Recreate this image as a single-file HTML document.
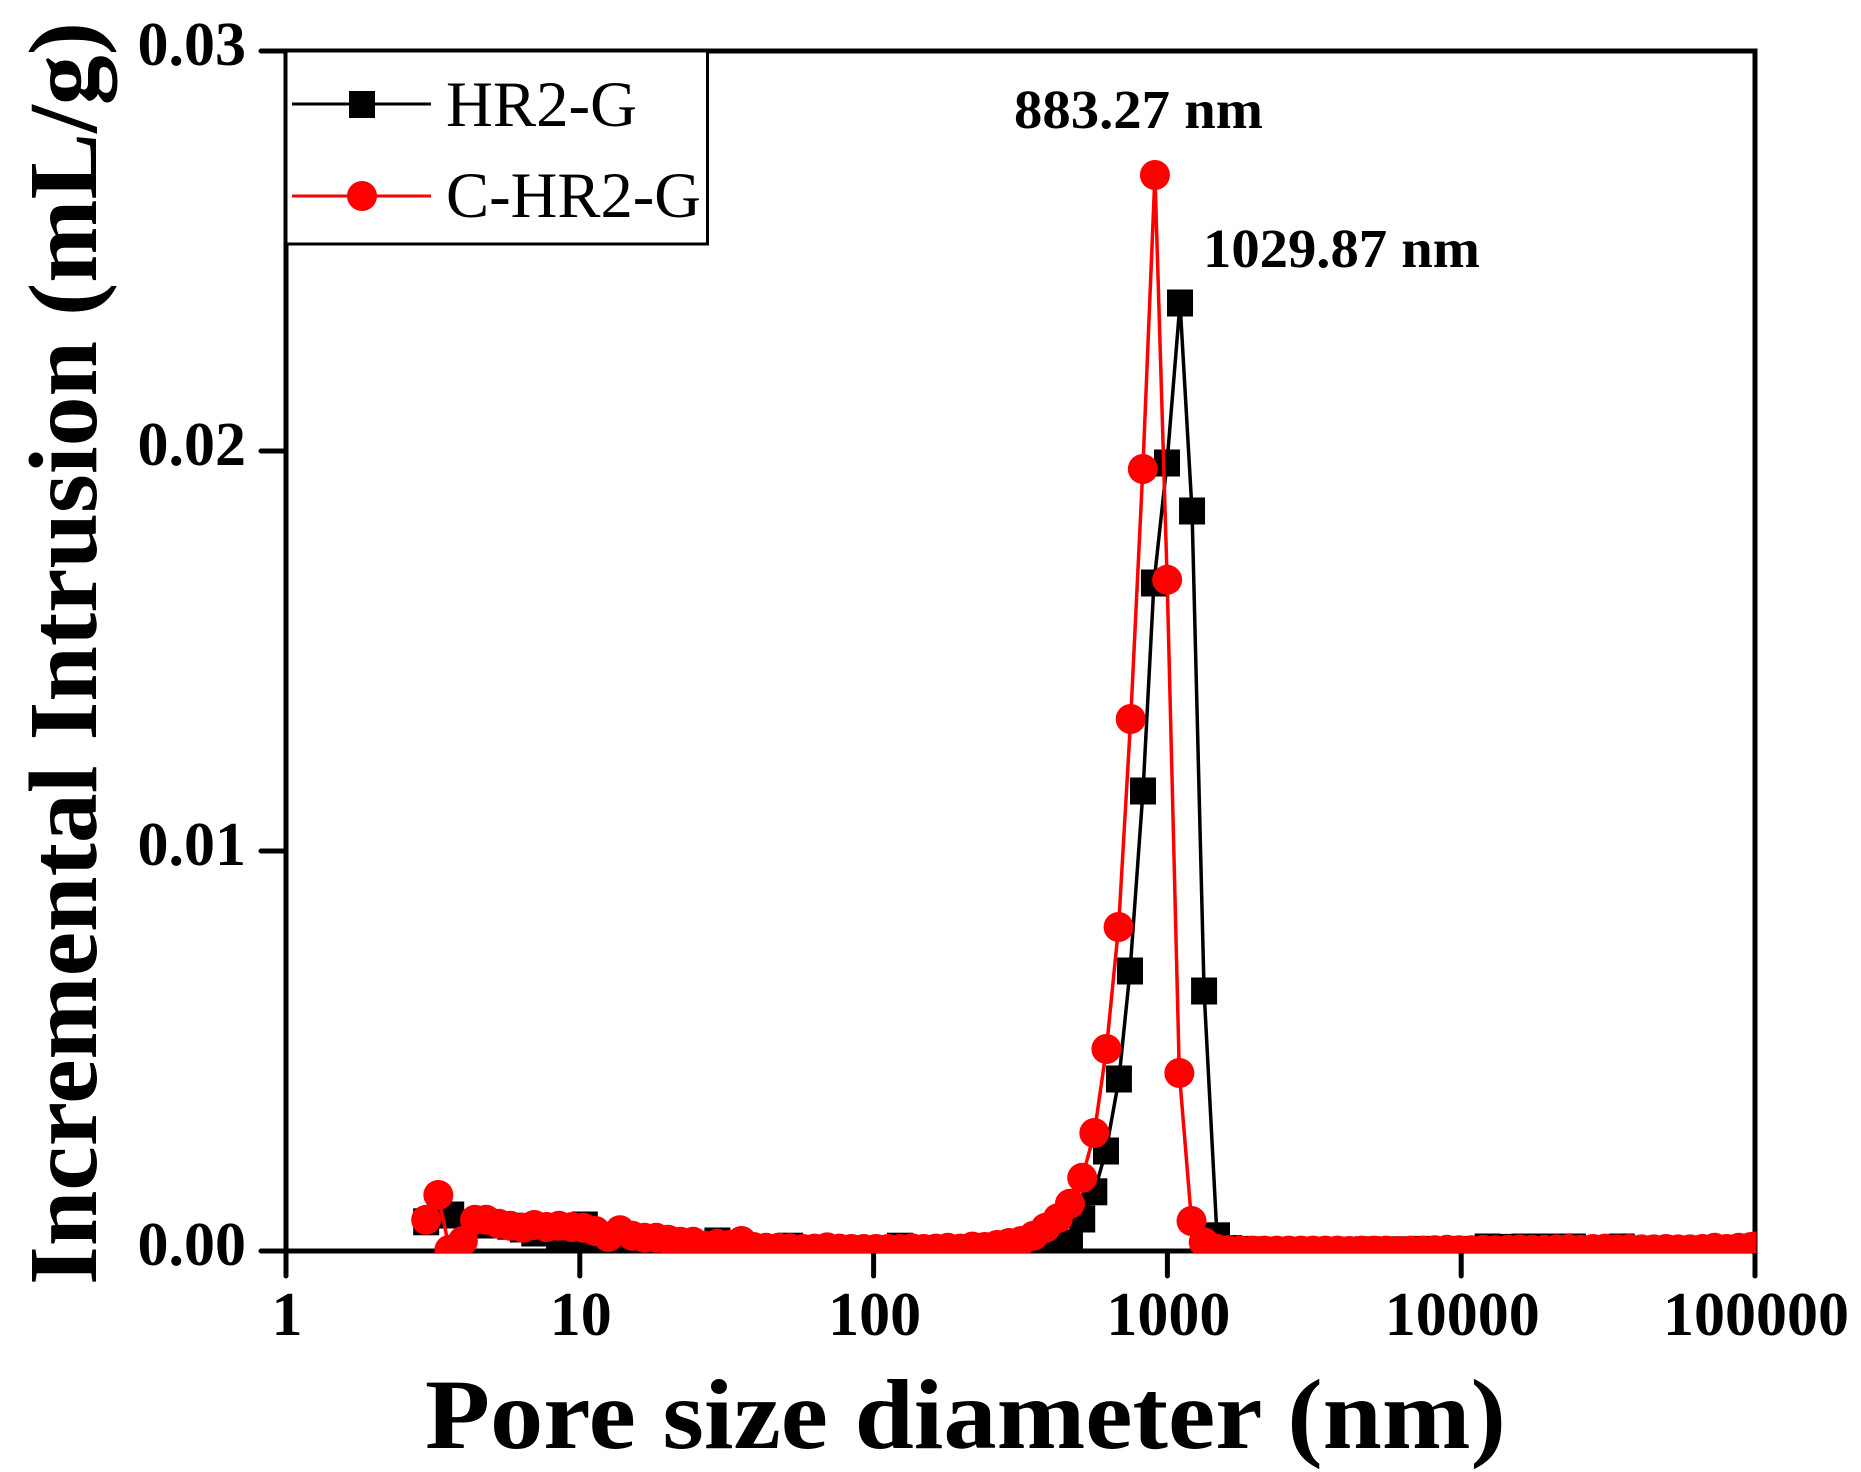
<!DOCTYPE html>
<html lang="en">
<head>
<meta charset="utf-8">
<title>Pore size distribution</title>
<style>
  html, body { margin: 0; padding: 0; background: #fff; }
  svg { display: block; }
  text { font-family: "Liberation Serif", serif; fill: #000; }
  .b { font-weight: bold; }
</style>
</head>
<body>
<svg id="chart" xmlns="http://www.w3.org/2000/svg" width="1861" height="1472" viewBox="0 0 1861 1472">
  <rect x="0" y="0" width="1861" height="1472" fill="#fff"/>
  <defs>
    <clipPath id="plot-clip"><rect x="200" y="40" width="1556.5" height="1213"/></clipPath>
  </defs>
  <g id="axes"></g>
  <g id="series" clip-path="url(#plot-clip)"></g>

  <text class="b" transform="translate(96,1285) rotate(-90)" font-size="97" textLength="1263" lengthAdjust="spacingAndGlyphs">Incremental Intrusion (mL/g)</text>
  <text class="b" x="425" y="1448" font-size="100" textLength="1081" lengthAdjust="spacingAndGlyphs">Pore size diameter (nm)</text>

  <text class="b" x="1014" y="128" font-size="55" textLength="249" lengthAdjust="spacingAndGlyphs">883.27 nm</text>
  <text class="b" x="1203" y="267" font-size="55" textLength="277" lengthAdjust="spacingAndGlyphs">1029.87 nm</text>

  <g>
    <rect x="286" y="51" width="421.5" height="193" fill="#fff" stroke="#000" stroke-width="3"/>
    <line x1="292" y1="104" x2="431" y2="104" stroke="#000" stroke-width="3"/>
    <rect x="349" y="91" width="26" height="27" fill="#000"/>
    <text x="446" y="126" font-size="65" textLength="191" lengthAdjust="spacingAndGlyphs">HR2-G</text>
    <line x1="292" y1="196" x2="431" y2="196" stroke="#f00" stroke-width="3"/>
    <circle cx="362" cy="196" r="15" fill="#f00"/>
    <text x="446" y="217" font-size="65" textLength="255" lengthAdjust="spacingAndGlyphs">C-HR2-G</text>
  </g>
</svg>
<script>
var xTickValues = [1, 10, 100, 1000, 10000, 100000];
var xTickLabels = ["1", "10", "100", "1000", "10000", "100000"];
var yTickValues = [0, 0.01, 0.02, 0.03];
var yTickLabels = ["0.00", "0.01", "0.02", "0.03"];

var hr2gDiameters = [3.0, 3.65, 4.4, 4.8, 5.3, 5.8, 6.4, 7.0, 7.7, 8.5, 9.4, 10.4, 11.3, 12.5, 13.7, 15.1, 16.6, 18.2, 20, 22, 24.3, 26.7, 29.4, 32.3, 35.5, 39, 43, 47.5, 52, 57.5, 63, 69.5, 76.5, 84, 92.5, 102, 112, 123, 135, 148, 163, 179, 197, 217, 239, 263, 289, 318, 350, 385, 424, 466, 513, 564, 618, 684, 746, 826, 900, 997, 1104, 1213, 1333, 1475, 1622, 1790, 2000, 2400, 3000, 3800, 4800, 6000, 7500, 9500, 12300, 13500, 14900, 16400, 18000, 19800, 21800, 24000, 26400, 29000, 32000, 35200, 38700];
var hr2gValues = [0.00073, 0.0009, 0.00065, 0.00068, 0.00065, 0.00062, 0.00055, 0.00045, 0.00045, 0.00038, 0.0004, 0.00065, 0.0003, 0.00018, 0.0002, 0.00022, 0.00018, 0.00015, 0.00015, 0.00012, 0.00014, 0.00012, 0.00025, 0.00012, 0.0001, 0.00008, 0.00008, 0.00008, 0.00012, 0.00006, 0.00005, 0.00005, 0.00005, 0.00005, 0.00005, 0.00005, 0.00006, 0.00012, 0.00006, 0.00005, 0.00005, 0.00005, 0.00004, 0.00005, 0.00005, 0.00005, 0.00004, 0.00005, 0.00004, 0.00003, 0.00002, 0.0002, 0.0008, 0.00148, 0.0025, 0.0043, 0.007, 0.0115, 0.0167, 0.0197, 0.0237, 0.0185, 0.0065, 0.00038, 0.00006, 0.00004, 0.00003, 0.00002, 0.00002, 0.00002, 0.00003, 0.00003, 0.00004, 0.00004, 0.0001, 0.00009, 0.00005, 0.0001, 0.0001, 0.0001, 0.0001, 0.0001, 0.00005, 0.00005, 0.00005, 0.0001, 0.00004];

var chr2gDiameters = [3.0, 3.3, 3.6, 4.0, 4.4, 4.8, 5.3, 5.8, 6.4, 7.0, 7.7, 8.5, 9.4, 10.3, 11.3, 12.5, 13.7, 15.1, 16.6, 18.2, 20, 22, 24.3, 26.7, 29.4, 32.3, 35.5, 39, 43, 47.5, 52, 57.5, 63, 69.5, 76.5, 84, 92.5, 102, 112, 123, 135, 148, 163, 179, 197, 217, 239, 263, 289, 318, 350, 385, 424, 466, 513, 564, 620, 682, 750, 825, 907, 998, 1098, 1208, 1329, 1462, 1608, 1769, 1946, 2140, 2354, 2590, 2849, 3134, 3447, 3792, 4171, 4588, 5047, 5552, 6107, 6718, 7390, 8129, 8942, 9836, 10820, 11900, 13090, 14400, 15840, 17420, 19170, 21090, 23200, 25500, 28100, 30900, 34000, 37400, 41100, 45200, 49800, 54700, 60200, 66200, 72900, 80200, 88200, 97000, 100000];
var chr2gValues = [0.00078, 0.0014, 0.00003, 0.00025, 0.00078, 0.00078, 0.00068, 0.00063, 0.00058, 0.00065, 0.0006, 0.00063, 0.0006, 0.00058, 0.0005, 0.00035, 0.00052, 0.00038, 0.00033, 0.00033, 0.00028, 0.00023, 0.00023, 0.00013, 0.00018, 0.00015, 0.00025, 0.0001, 0.00008, 0.00008, 0.00007, 0.00005, 0.00006, 0.00009, 0.00006, 0.00005, 0.00005, 0.00005, 0.00005, 0.00005, 0.00007, 0.00005, 0.00006, 0.00008, 0.00006, 0.00011, 0.0001, 0.00015, 0.0002, 0.00025, 0.00038, 0.00058, 0.00082, 0.00118, 0.00183, 0.00295, 0.00505, 0.0081, 0.0133, 0.01955, 0.0269, 0.01678, 0.00445, 0.00075, 0.00022, 0.00006, 0.00002, 0.00001, 0.00001, 0.00001, 0.00001, 0.00001, 0.00001, 0.00001, 0.00001, 0.00001, 0, 0.00001, 0.00001, 0.00001, 0, 0.00001, 0.00001, 0.00002, 0.00003, 0.00002, 0.00002, 0.00003, 0.00002, 0.00003, 0.00004, 0.00003, 0.00003, 0.00004, 0.00005, 0.00003, 0.00005, 0.00006, 0.00004, 0.00005, 0.00004, 0.00004, 0.00005, 0.00004, 0.00004, 0.00005, 0.00008, 0.00005, 0.00008, 0.0001, 0.00011];

var SVG_NS = "http://www.w3.org/2000/svg";
var plotLeft = 286, plotRight = 1755, plotTop = 51, plotBottom = 1251;

function xScale(v) {
  return plotLeft + (Math.log10(v) - Math.log10(1)) / (Math.log10(100000) - Math.log10(1)) * (plotRight - plotLeft);
}
function yScale(v) {
  return plotBottom - (v / 0.03) * (plotBottom - plotTop);
}
function make(tag, attrs, parent) {
  var el = document.createElementNS(SVG_NS, tag);
  for (var k in attrs) { el.setAttribute(k, attrs[k]); }
  parent.appendChild(el);
  return el;
}

var axes = document.getElementById("axes");
var series = document.getElementById("series");

var frame = make("rect", { x: plotLeft, y: plotTop, width: plotRight - plotLeft, height: plotBottom - plotTop, fill: "none", stroke: "#000", "stroke-width": 5 }, axes);



xTickValues.forEach(function (v, i) {
  var x = xScale(v);
  var tick = make("line", { x1: x, y1: plotBottom, x2: x, y2: plotBottom + 25, stroke: "#000", "stroke-width": 5, "stroke-linecap": "round" }, axes);
  
  
  var label = make("text", { x: x + 1, y: 1335, "font-size": 62, "text-anchor": "middle", "class": "b" }, axes);
  
  
  label.textContent = xTickLabels[i];
});

yTickValues.forEach(function (v, i) {
  var y = yScale(v);
  var tick = make("line", { x1: plotLeft - 25, y1: y, x2: plotLeft, y2: y, stroke: "#000", "stroke-width": 5, "stroke-linecap": "round" }, axes);
  
  
  var label = make("text", { x: 246, y: y + 14, "font-size": 62, "text-anchor": "end", "class": "b" }, axes);
  
  
  label.textContent = yTickLabels[i];
});

function linePoints(xs, ys) {
  return xs.map(function (d, i) { return xScale(d).toFixed(2) + "," + yScale(ys[i]).toFixed(2); }).join(" ");
}

var hr2gLine = make("polyline", { points: linePoints(hr2gDiameters, hr2gValues), fill: "none", stroke: "#000", "stroke-width": 3.5 }, series);



hr2gDiameters.forEach(function (d, i) {
  var sq = make("rect", { x: xScale(d) - 13, y: yScale(hr2gValues[i]) - 13.5, width: 26, height: 27, fill: "#000" }, series);
  
  
});

var chr2gLine = make("polyline", { points: linePoints(chr2gDiameters, chr2gValues), fill: "none", stroke: "#f00", "stroke-width": 3.5 }, series);



chr2gDiameters.forEach(function (d, i) {
  var c = make("circle", { cx: xScale(d), cy: yScale(chr2gValues[i]), r: 15, fill: "#f00" }, series);
  
  
});
</script>
</body>
</html>
